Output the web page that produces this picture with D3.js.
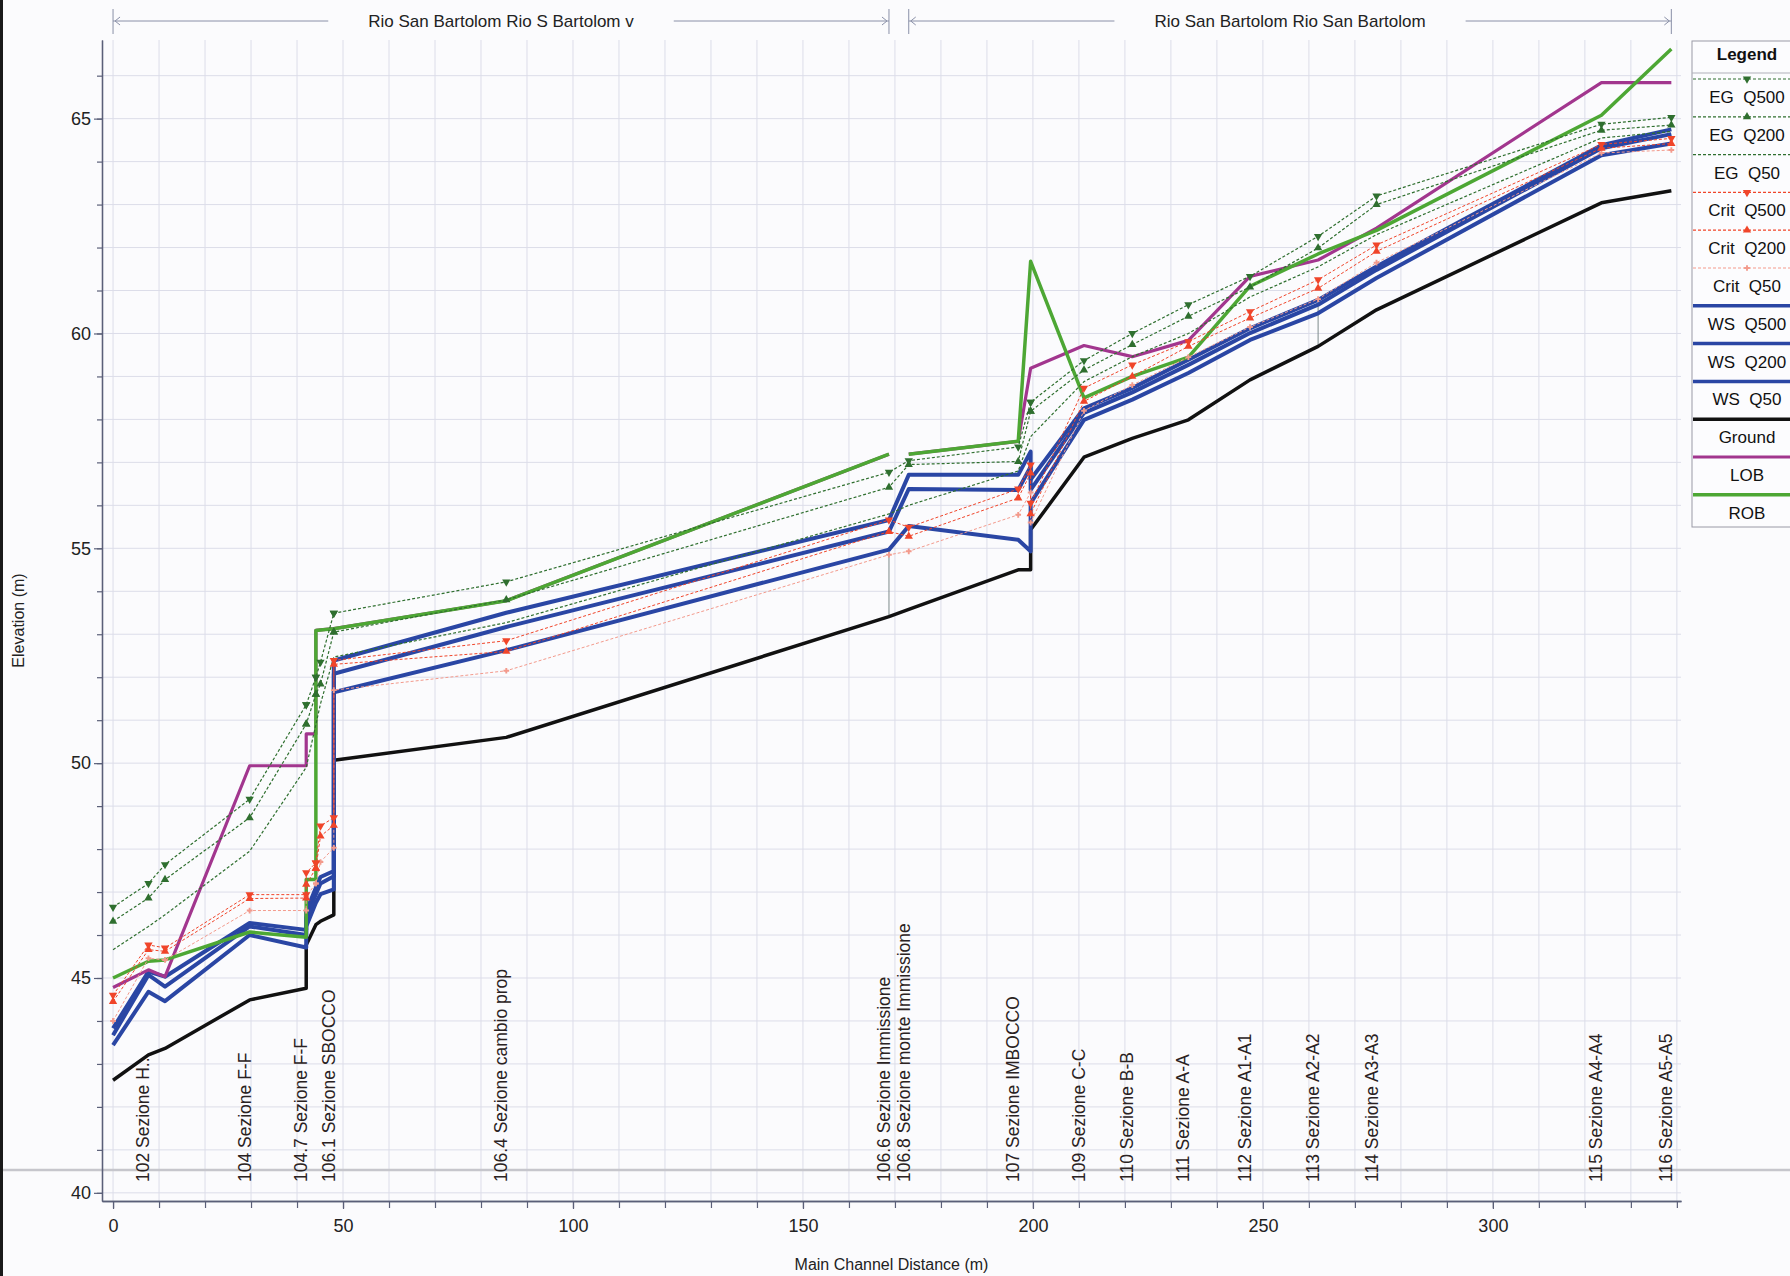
<!DOCTYPE html>
<html><head><meta charset="utf-8">
<script src="https://cdn.jsdelivr.net/npm/d3@7"></script>
<style>body{margin:0;background:#fbfbfd}svg{display:block}</style>
</head><body>
<svg id="c" width="1790" height="1276"></svg>
<script>
// ---------- data ----------
const stations = [0, 7.7, 11.3, 29.7, 42, 42, 44.1, 44.1, 45.1, 48, 48, 85.5, 168.7, 173, 196.8, 199.5, 199.5, 211.1, 221.6, 233.8, 247.2, 262, 274.7, 323.6, 338.8];
const ground = [42.62, 43.21, 43.36, 44.49, 44.76, 45.77, 46.24, 46.24, 46.32, 46.47, 50.07, 50.6, 53.41, 53.58, 54.5, 54.5, 55.43, 57.12, 57.56, 57.99, 58.92, 59.7, 60.55, 63.04, 63.32];
const wsQ500 = [43.83, 45.15, 45.03, 46.28, 46.12, 46.55, 47.1, 47.1, 47.35, 47.49, 52.39, 53.5, 55.66, 56.71, 56.71, 57.25, 56.6, 58.26, 58.73, 59.39, 60.12, 60.78, 61.56, 64.38, 64.75];
const wsQ200 = [43.67, 45.07, 44.8, 46.2, 46.0, 46.4, 46.95, 46.95, 47.2, 47.37, 52.08, 53.17, 55.39, 56.38, 56.36, 56.9, 56.36, 58.15, 58.63, 59.27, 60.01, 60.67, 61.48, 64.31, 64.64];
const wsQ50 = [43.44, 44.68, 44.46, 46.0, 45.71, 46.2, 46.75, 46.75, 46.95, 47.06, 51.65, 52.63, 54.97, 55.52, 55.2, 54.93, 56.05, 57.99, 58.46, 59.08, 59.85, 60.47, 61.29, 64.15, 64.42];
const egQ500 = [46.65, 47.2, 47.64, 49.16, 51.36, 51.36, 52.0, 52.0, 52.35, 53.49, 53.49, 54.22, 56.77, 57.04, 57.36, 58.4, 58.4, 59.37, 60.0, 60.67, 61.33, 62.26, 63.2, 64.87, 65.03];
const egQ200 = [46.32, 46.86, 47.29, 48.73, 50.91, 50.91, 51.6, 51.6, 51.84, 53.05, 53.05, 53.8, 56.42, 56.95, 57.02, 58.19, 58.19, 59.15, 59.74, 60.4, 61.08, 61.99, 63.0, 64.73, 64.85];
const egQ50 = [45.66, 46.2, 46.47, 47.95, 49.9, 49.9, 50.9, 50.9, 51.38, 52.47, 52.47, 53.27, 55.8, 56.0, 56.8, 57.6, 57.6, 58.88, 59.46, 60.0, 60.85, 61.55, 62.3, 64.55, 64.7];
const critQ500 = [44.6, 45.77, 45.7, 46.94, 46.94, 47.45, 47.68, 47.68, 48.54, 48.73, 52.39, 52.85, 55.66, 55.49, 56.38, 56.94, 56.05, 58.73, 59.27, 59.81, 60.51, 61.25, 62.06, 64.4, 64.54];
const critQ200 = [44.45, 45.66, 45.62, 46.85, 46.86, 47.18, 47.55, 47.55, 48.3, 48.55, 52.3, 52.6, 55.39, 55.28, 56.17, 56.75, 55.8, 58.42, 59.0, 59.7, 60.36, 61.05, 61.91, 64.31, 64.42];
const critQ50 = [44.0, 45.46, 45.42, 46.57, 46.57, 46.9, 47.2, 47.2, 47.7, 48.03, 51.7, 52.15, 54.85, 54.93, 55.78, 56.3, 55.6, 58.2, 58.8, 59.45, 60.15, 60.8, 61.65, 64.2, 64.27];
const lob = [44.78, 45.19, 45.03, 49.94, 49.94, 50.68, 50.68, 53.09, 53.1, 53.13, 53.13, 53.78, 57.19, 57.19, 57.49, 59.19, 59.19, 59.72, 59.46, 59.84, 61.33, 61.71, 62.45, 65.84, 65.84];
const rob = [45.0, 45.39, 45.42, 46.07, 45.95, 47.29, 47.29, 53.09, 53.1, 53.13, 53.13, 53.78, 57.19, 57.19, 57.49, 61.68, 61.68, 58.5, 59.0, 59.45, 61.1, 61.85, 62.4, 65.08, 66.62];
const bankGap = [168.7, 173];
const thinVerticals = [[168.7, 53.41, 54.97], [262, 59.7, 60.78]];

const sectionStations = [7.7, 29.7, 42, 48, 85.5, 168.7, 173, 196.8, 211.1, 221.6, 233.8, 247.2, 262, 274.7, 323.6, 338.8];
const sectionLabels = ["102 Sezione H...", "104 Sezione F-F", "104.7 Sezione F-F", "106.1 Sezione SBOCCO", "106.4 Sezione cambio prop", "106.6 Sezione Immissione", "106.8 Sezione monte Immissione", "107 Sezione IMBOCCO", "109 Sezione C-C", "110 Sezione B-B", "111 Sezione A-A", "112 Sezione A1-A1", "113 Sezione A2-A2", "114 Sezione A3-A3", "115 Sezione A4-A4", "116 Sezione A5-A5"];

const reachNames = ["Rio San Bartolom Rio S Bartolom v", "Rio San Bartolom Rio San Bartolom"];
const reachStart = [0, 173];
const reachEnd = [168.7, 338.8];

const xTicks = [0, 50, 100, 150, 200, 250, 300];
const yTicks = [40, 45, 50, 55, 60, 65];

// ---------- styles ----------
const narrow = "'Liberation Sans Narrow','Arial Narrow','Liberation Sans',Arial,sans-serif";
const regular = "'Liberation Sans',Arial,sans-serif";
const C = {eg:'#2f6f2f', crit:'#f0452a', critLight:'#f39a8c', ws:'#2a46a4', ground:'#111111', lob:'#a2368e', rob:'#4da734'};

const series = [
  {name:'EG  Q500', vals:egQ500, color:C.eg, w:1.2, dash:'3,2', marker:'down'},
  {name:'EG  Q200', vals:egQ200, color:C.eg, w:1.2, dash:'3,2', marker:'up'},
  {name:'EG  Q50', vals:egQ50, color:C.eg, w:1.2, dash:'3,2', marker:null},
  {name:'Crit  Q500', vals:critQ500, color:C.crit, w:1, dash:'3,2', marker:'down'},
  {name:'Crit  Q200', vals:critQ200, color:C.crit, w:1, dash:'3,2', marker:'up'},
  {name:'Crit  Q50', vals:critQ50, color:C.critLight, w:1, dash:'3,2', marker:'plus'},
  {name:'WS  Q500', vals:wsQ500, color:C.ws, w:4, dash:null, marker:null},
  {name:'WS  Q200', vals:wsQ200, color:C.ws, w:4, dash:null, marker:null},
  {name:'WS  Q50', vals:wsQ50, color:C.ws, w:4, dash:null, marker:null},
  {name:'Ground', vals:ground, color:C.ground, w:3.5, dash:null, marker:null},
  {name:'LOB', vals:lob, color:C.lob, w:3.2, dash:null, marker:null, bank:true},
  {name:'ROB', vals:rob, color:C.rob, w:3.5, dash:null, marker:null, bank:true}
];
const drawOrder = [9, 8, 7, 6, 10, 11, 2, 1, 0, 5, 4, 3];

// ---------- scales ----------
const svg = d3.select('#c');
const x = d3.scaleLinear().domain([-2.4, 340.9]).range([102, 1681]);
const y = d3.scaleLinear().domain([39.81, 66.83]).range([1201, 40]);
const [X0, X1] = x.range(); const [Y1, Y0] = y.range();

// background
svg.append('rect').attr('width',1790).attr('height',1276).attr('fill','#fbfbfd');

// grid
const grid = svg.append('g').attr('stroke','#dcdde9').attr('stroke-width',1);
d3.range(0, 341, 10).forEach(v => grid.append('line').attr('x1',x(v)).attr('x2',x(v)).attr('y1',Y0).attr('y2',Y1));
d3.range(40, 67, 1).forEach(v => grid.append('line').attr('x1',X0).attr('x2',X1).attr('y1',y(v)).attr('y2',y(v)));

// scan line artefact across page
svg.append('line').attr('x1',0).attr('x2',1790).attr('y1',1170).attr('y2',1170).attr('stroke','#c6c6cc').attr('stroke-width',2.5);

// axes
function styleAxis(g){ g.selectAll('path.domain').attr('stroke','#5a5f78').attr('stroke-width',1.3);
  g.selectAll('.tick line').attr('stroke','#5a5f78').attr('stroke-width',1.2);
  g.selectAll('text').attr('font-family',narrow).attr('font-size',18).attr('fill','#222'); }
const yMinor = svg.append('g').attr('transform',`translate(${X0},0)`).call(d3.axisLeft(y).tickValues(d3.range(40,67,1)).tickSize(5).tickSizeOuter(0).tickFormat(''));
styleAxis(yMinor);
const yMajor = svg.append('g').attr('transform',`translate(${X0},0)`).call(d3.axisLeft(y).tickValues(yTicks).tickSize(8).tickSizeOuter(0).tickPadding(3));
styleAxis(yMajor);
const xMinor = svg.append('g').attr('transform',`translate(0,${Y1})`).call(d3.axisBottom(x).tickValues(d3.range(0,341,10)).tickSize(7).tickSizeOuter(0).tickFormat(''));
styleAxis(xMinor);
const xMajor = svg.append('g').attr('transform',`translate(0,${Y1})`).call(d3.axisBottom(x).tickValues(xTicks).tickSize(8).tickSizeOuter(0).tickPadding(10));
styleAxis(xMajor);

// axis titles
svg.append('text').attr('transform',`translate(24,${(Y0+Y1)/2}) rotate(-90)`).attr('text-anchor','middle')
  .attr('font-family',narrow).attr('font-size',16).attr('fill','#222').text('Elevation (m)');
svg.append('text').attr('x',(X0+X1)/2).attr('y',1270).attr('text-anchor','middle')
  .attr('font-family',narrow).attr('font-size',16).attr('fill','#222').text('Main Channel Distance (m)');

// section labels
sectionStations.forEach((s,i)=>{
  svg.append('text').attr('transform',`translate(${x(s)+1},1182) rotate(-90)`)
    .attr('font-family',regular).attr('font-size',17.5).attr('fill','#2a2222').text(sectionLabels[i]);
});

// thin vertical lines
thinVerticals.forEach(v=>svg.append('line').attr('x1',x(v[0])).attr('x2',x(v[0])).attr('y1',y(v[1])).attr('y2',y(v[2])).attr('stroke','#7d8a8a').attr('stroke-width',1));

// series lines
const line = d3.line().x(d=>x(d[0])).y(d=>y(d[1]));
function segmentsOf(s){
  const pts = stations.map((st,i)=>[st, s.vals[i]]);
  if(!s.bank) return [pts];
  const segs=[[]];
  pts.forEach((p,i)=>{
    if(i>0 && pts[i-1][0]===bankGap[0] && p[0]===bankGap[1]) segs.push([]);
    segs[segs.length-1].push(p);
  });
  return segs;
}
const sym = {
  up: d3.symbol().type(d3.symbolTriangle).size(30),
  down: d3.symbol().type(d3.symbolTriangle).size(30),
  plus: d3.symbol().type(d3.symbolCross).size(18)
};
function drawMarker(g, type, px, py, color){
  if(!type) return;
  g.append('path').attr('d', sym[type]()).attr('transform',`translate(${px},${py})${type==='down'?' rotate(180)':''}`)
   .attr('fill',color).attr('stroke','none');
}
drawOrder.forEach(k=>{
  const s = series[k];
  segmentsOf(s).forEach(seg=>{
    svg.append('path').attr('d',line(seg)).attr('fill','none').attr('stroke',s.color)
      .attr('stroke-width',s.w).attr('stroke-dasharray',s.dash).attr('stroke-linejoin','round');
  });
});
const mg = svg.append('g');
drawOrder.forEach(k=>{
  const s = series[k];
  if(!s.marker) return;
  stations.forEach((st,i)=>drawMarker(mg, s.marker, x(st), y(s.vals[i]), s.color));
});

// reach annotations
reachNames.forEach((name,i)=>{
  const a = x(reachStart[i]), b = x(reachEnd[i]), cy = 21, mid=(a+b)/2;
  const g = svg.append('g').attr('stroke','#8a90a8').attr('fill','none').attr('stroke-width',1);
  const t = svg.append('text').attr('x',mid).attr('y',cy+6).attr('text-anchor','middle')
    .attr('font-family',narrow).attr('font-size',17).attr('fill','#222').text(name);
  const tw = t.node().getComputedTextLength();
  g.append('line').attr('x1',a).attr('x2',mid-tw/2-40).attr('y1',cy).attr('y2',cy);
  g.append('line').attr('x1',mid+tw/2+40).attr('x2',b).attr('y1',cy).attr('y2',cy);
  g.append('line').attr('x1',a).attr('x2',a).attr('y1',9).attr('y2',34);
  g.append('line').attr('x1',b).attr('x2',b).attr('y1',9).attr('y2',34);
  g.append('path').attr('d',`M${a+7},${cy-4}L${a+2},${cy}L${a+7},${cy+4}`);
  g.append('path').attr('d',`M${b-7},${cy-4}L${b-2},${cy}L${b-7},${cy+4}`);
});

// legend
const LX = 1692, LT = 41, LB = 527, sep = 73, rowH = 37.8, LC = 1747;
const lg = svg.append('g');
lg.append('rect').attr('x',LX).attr('y',LT).attr('width',120).attr('height',LB-LT).attr('fill','#fcfcfe').attr('stroke','#9a9aa6').attr('stroke-width',1);
lg.append('line').attr('x1',LX).attr('x2',1790).attr('y1',sep).attr('y2',sep).attr('stroke','#b0b0ba');
lg.append('text').attr('x',LC).attr('y',60).attr('text-anchor','middle').attr('font-family',narrow).attr('font-weight','bold').attr('font-size',17).attr('fill','#111').text('Legend');
series.forEach((s,i)=>{
  const top = sep + rowH*i;
  lg.append('line').attr('x1',LX+1).attr('x2',1790).attr('y1',top+6).attr('y2',top+6)
    .attr('stroke',s.color).attr('stroke-width',s.dash?1.2:Math.min(s.w,3.5)).attr('stroke-dasharray',s.dash);
  drawMarker(lg, s.marker, LC, top+6, s.color);
  lg.append('text').attr('x',LC).attr('y',top+30).attr('text-anchor','middle').attr('font-family',narrow)
    .attr('font-size',17).attr('fill','#111').style('white-space','pre').text(s.name);
});

// left page border
svg.append('rect').attr('x',0).attr('y',0).attr('width',3).attr('height',1276).attr('fill','#1a1a1a');
</script>
</body></html>
